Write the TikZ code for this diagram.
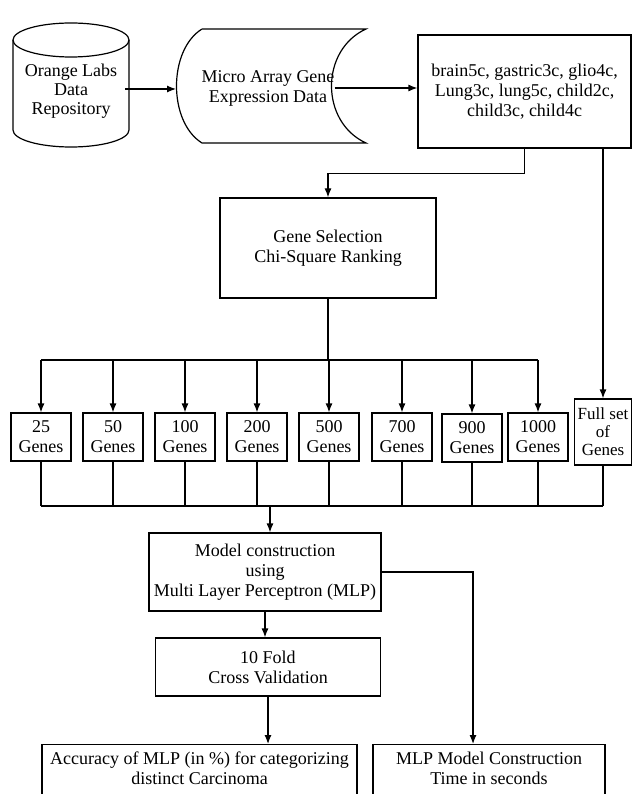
\documentclass[tikz,border=0pt]{standalone}
\usepackage{fontspec}
\setmainfont{Liberation Serif}
\usetikzlibrary{
    arrows,
    arrows.meta,
    shapes,
    calc,
    positioning
}
\tikzset{
    box/.style={draw, line width=1.2pt, inner sep=3pt, align=center},
    genebox/.style={box, minimum width=60pt, minimum height=48pt, inner sep=1pt},
    link/.style={line width=1.2pt},
    >={Latex[length=9pt,width=7pt]}
}

\begin{document}
\begin{tikzpicture}[x=1pt, y=-1pt, font=\fontsize{18}{20}\selectfont]
    \useasboundingbox (0, 0) rectangle (632, 794);
    \clip (0, 0) rectangle (632, 794);

    % top row
    \draw[link] (71, 40) ellipse [x radius=58, y radius=17];
    \draw[link] (13, 40) -- (13, 130) arc [start angle=180, end angle=0, x radius=58, y radius=17] -- (129, 40);
    \node[inner sep=0pt, align=center, minimum width=116pt] (repo) at (71, 91)
          {Orange Labs\\[-1pt]Data\\[-1pt]Repository};
    \node[inner sep=0pt, align=center] (data) at (268, 88) {Micro Array Gene\\Expression Data};
    \draw[link] (202, 29) -- (366, 29) .. controls (320, 50) and (320, 122) .. (366, 143)
        -- (202, 143) .. controls (168, 122) and (168, 50) .. (202, 29);
    \coordinate (datain) at (176, 89);
    \node[box, minimum width=213pt, minimum height=113pt] (sets) at (524.5, 91.5)
          {brain5c, gastric3c, glio4c,\\Lung3c, lung5c, child2c,\\child3c, child4c};

    \node[box, minimum width=216pt, minimum height=100pt] (select) at (328, 248)
          {Gene Selection\\Chi-Square Ranking};

    % gene subsets
    \node[genebox] (g25) at (41, 437) {25\\Genes};
    \node[genebox] (g50) at (113, 437) {50\\Genes};
    \node[genebox] (g100) at (185, 437) {100\\Genes};
    \node[genebox] (g200) at (257, 437) {200\\Genes};
    \node[genebox] (g500) at (329, 437) {500\\Genes};
    \node[genebox] (g700) at (402, 437) {700\\Genes};
    \node[genebox] (g900) at (472, 438) {900\\Genes};
    \node[genebox] (g1000) at (538, 437) {1000\\Genes};
    \node[genebox, minimum width=57pt, minimum height=66pt, font=\fontsize{17}{18}\selectfont] (gall) at (603, 432)
          {Full set\\of\\Genes};

    \coordinate (split) at (328, 360);
    \coordinate (merge) at (270, 506);

    \node[box, minimum width=232pt, minimum height=78pt] (model) at (265, 572)
          {Model construction\\using\\Multi Layer Perceptron (MLP)};
    \node[box, minimum width=225pt, minimum height=58pt] (cross) at (268, 667)
          {10 Fold\\Cross Validation};
    \node[box, anchor=north, minimum width=315pt, inner ysep=7pt] (acc) at (199.5, 744)
          {Accuracy of MLP (in \%) for categorizing\\distinct Carcinoma\\ \mbox{}};
    \node[box, anchor=north, minimum width=232pt, inner ysep=7pt] (time) at (489, 744)
          {MLP Model Construction\\Time in seconds\\ \mbox{}};

    % connectors
    \draw[link, ->] ([xshift=-4pt]repo.east |- datain) -- (datain);
    \draw[link, ->] (data.east) -- (data.east -| sets.west);
    \draw[link, ->] (sets.south) -- ++(0, 25) -| (select.north);
    \draw[link, ->] (sets.south -| gall.north) -- (gall.north);
    \draw[link] (select.south) -- (split);
    \draw[link] (g25.north |- split) -- (g1000.north |- split);
    \draw[link]
    (g25.north |- split) edge[->] (g25)
    (g50.north |- split) edge[->] (g50)
    (g100.north |- split) edge[->] (g100)
    (g200.north |- split) edge[->] (g200)
    (g500.north |- split) edge[->] (g500)
    (g700.north |- split) edge[->] (g700)
    (g900.north |- split) edge[->] (g900)
    (g1000.north |- split) edge[->] (g1000);
    \draw[link]
    (g25) edge (g25.south |- merge)
    (g50) edge (g50.south |- merge)
    (g100) edge (g100.south |- merge)
    (g200) edge (g200.south |- merge)
    (g500) edge (g500.south |- merge)
    (g700) edge (g700.south |- merge)
    (g900) edge (g900.south |- merge)
    (g1000) edge (g1000.south |- merge)
    (gall) edge (gall.south |- merge);
    \draw[link] (g25.south |- merge) -- (gall.south |- merge);
    \draw[link, ->] (merge) -- (merge |- model.north);
    \draw[link, ->] (model.south) -- (model.south |- cross.north);
    \draw[link, ->] (cross.south) -- (cross.south |- acc.north);
    \draw[link, ->] (model.east) -| ([xshift=-16pt]time.north);
\end{tikzpicture}
\end{document}
